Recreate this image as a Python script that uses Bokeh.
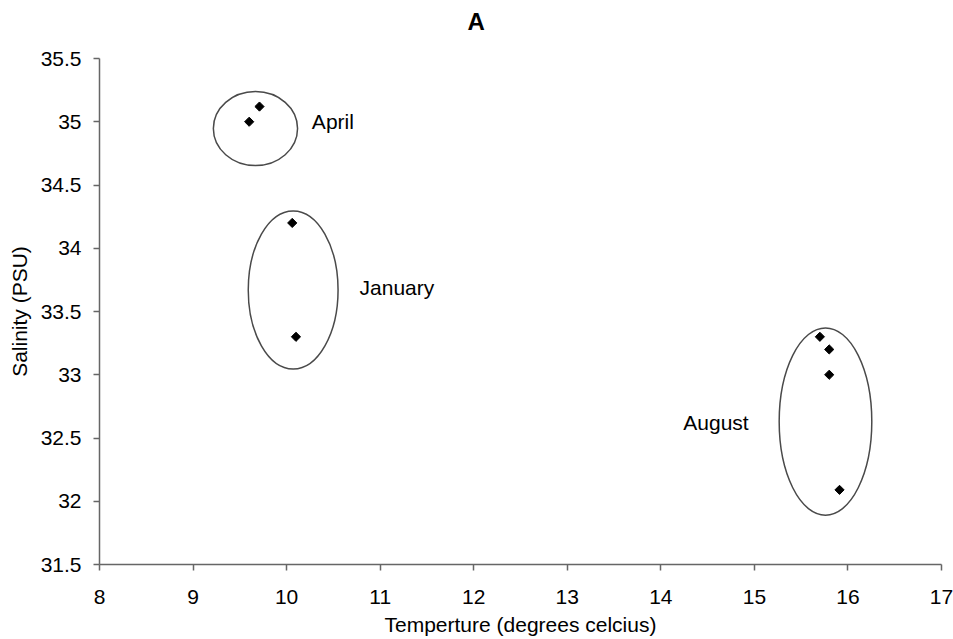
import numpy as np
from bokeh.plotting import figure
from bokeh.models import ColumnDataSource, Range1d, FixedTicker, LinearAxis
from bokeh.core.properties import value
from bokeh.embed import file_html
from bokeh.resources import INLINE

# Data
months = ["April", "April", "January", "January", "August", "August", "August", "August"]
temperature = [9.60, 9.71, 10.06, 10.10, 15.70, 15.80, 15.80, 15.91]
salinity = [35.00, 35.12, 34.20, 33.30, 33.30, 33.20, 33.00, 32.09]

# Group annotations (ellipses around each month's points)
group_names = ["April", "January", "August"]
group_cx = [9.667, 10.07, 15.76]
group_cy = [34.946, 33.67, 32.63]
group_w = [0.90, 0.96, 0.99]
group_h = [0.586, 1.25, 1.48]
label_x = [10.27, 10.78, 14.24]
label_y = [35.0, 33.69, 32.62]

x_ticks = [8, 9, 10, 11, 12, 13, 14, 15, 16, 17]
y_ticks = [31.5, 32, 32.5, 33, 33.5, 34, 34.5, 35, 35.5]

TITLE = "A"
FONT = "Liberation Sans"
AXIS_COLOR = "#666666"

p = figure(width=953, height=639, output_backend="svg", toolbar_location=None,
           x_range=Range1d(8, 17), y_range=Range1d(31.5, 35.5),
           min_border_left=99, min_border_right=12, min_border_top=58,
           min_border_bottom=75)
p.outline_line_color = None
p.grid.visible = False

# invisible spacer between the frame and the title
spacer = LinearAxis(ticker=FixedTicker(ticks=[x_ticks[0]]), axis_line_color=None,
                    major_tick_line_color=None, minor_tick_line_color=None,
                    major_tick_in=0, major_tick_out=22, minor_tick_out=0,
                    major_label_standoff=0, major_label_overrides={x_ticks[0]: ""},
                    axis_label=None)
p.add_layout(spacer, "above")

p.title.text = TITLE
p.title.align = "left"
p.title.offset = 368
p.title.standoff = 4
p.title.text_font = FONT
p.title.text_font_size = "24px"
p.title.text_font_style = "bold"
p.title.text_color = "black"

xax = p.below[0]
yax = p.left[0]
xax.axis_label = "Temperture (degrees celcius)"
yax.axis_label = "Salinity (PSU)"
xax.ticker = FixedTicker(ticks=x_ticks)
yax.ticker = FixedTicker(ticks=y_ticks)
yax.major_label_overrides = {t: ("%g" % t) for t in y_ticks}

for ax in (xax, yax):
    ax.axis_line_color = AXIS_COLOR
    ax.axis_line_width = 1.5
    ax.major_tick_line_color = AXIS_COLOR
    ax.major_tick_line_width = 1.5
    ax.major_tick_in = 0
    ax.major_tick_out = 6
    ax.minor_tick_line_color = None
    ax.major_label_text_font = FONT
    ax.major_label_text_font_size = "21px"
    ax.major_label_text_color = "black"
    ax.axis_label_text_font = FONT
    ax.axis_label_text_font_size = "21px"
    ax.axis_label_text_font_style = "normal"
    ax.axis_label_text_color = "black"

yax.major_label_standoff = 12
yax.axis_label_standoff = 7
xax.major_label_standoff = 19
xax.axis_label_standoff = 6

gsrc = ColumnDataSource(dict(name=group_names, cx=group_cx, cy=group_cy, w=group_w,
                             h=group_h, lx=label_x, ly=label_y))
p.ellipse(x="cx", y="cy", width="w", height="h", source=gsrc,
          fill_alpha=0, line_color="#4a4a4a", line_width=1.5)
p.text(x="lx", y="ly", text="name", source=gsrc, text_font=value(FONT),
       text_font_size="21px", text_align="left", text_baseline="middle",
       text_color="black")

src = ColumnDataSource(dict(month=months, t=temperature, s=salinity))
p.scatter(x="t", y="s", source=src, marker="square", angle=np.pi / 4,
          size=6.5, fill_color="black", line_color="black")

open("out.html", "w").write(file_html(p, INLINE))
